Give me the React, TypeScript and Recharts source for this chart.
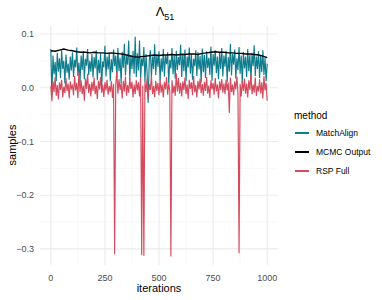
import React from "react";
import { LineChart, Line, XAxis, YAxis, ReferenceLine } from "recharts";

const STEP = 5;
const MCMC_STEP = 20;

const matchAlign: number[] = [
  0.072, -0.015, 0.060, 0.025, 0.048, 0.012, 0.065, 0.030, 0.055, 0.018, 0.070, 0.035, 0.050, 0.008, 0.062, 0.028, 0.045, 0.015, 0.058, 0.032, 0.066,
  0.020, 0.052, 0.038, 0.075, 0.022, 0.047, 0.010, 0.060, 0.033, 0.068, 0.016, 0.054, 0.041, 0.072, 0.024, 0.050, 0.030, 0.063, 0.019, 0.057,
  0.036, 0.070, 0.014, 0.052, 0.027, 0.064, 0.002, 0.049, 0.038, 0.078, 0.021, 0.058, 0.034, 0.066, 0.012, 0.053, 0.029, 0.071, 0.040, 0.060,
  0.018, 0.074, 0.031, 0.056, 0.009, 0.067, 0.037, 0.082, 0.023, 0.059, 0.043, 0.088, 0.015, 0.061, 0.035, 0.069, 0.026, 0.095, 0.020, 0.064,
  0.032, 0.088, 0.017, 0.055, 0.040, 0.076, 0.011, 0.063, 0.028, -0.028, 0.050, 0.070, 0.019, 0.058, 0.035, 0.081, 0.024, 0.062, 0.039, 0.068,
  0.013, 0.055, 0.030, 0.072, 0.021, 0.060, 0.044, 0.066, 0.008, 0.052, 0.036, 0.074, 0.025, 0.061, 0.017, 0.069, 0.033, 0.057, 0.042, 0.080,
  0.020, 0.064, 0.031, 0.071, 0.012, 0.058, 0.038, 0.075, 0.026, 0.062, 0.015, 0.054, 0.040, 0.070, 0.022, 0.066, 0.034, 0.059, 0.010, 0.073,
  0.029, 0.061, 0.018, 0.068, 0.037, 0.056, 0.024, 0.077, 0.013, 0.063, 0.041, 0.070, 0.027, 0.058, 0.016, 0.065, 0.035, 0.074, 0.021, 0.060,
  0.039, 0.069, 0.011, 0.057, 0.030, 0.082, 0.023, 0.063, 0.043, 0.071, 0.017, 0.055, 0.033, 0.076, 0.026, 0.060, 0.008, 0.067, 0.036, 0.058,
  0.020, 0.072, 0.031, 0.062, 0.014, 0.065, 0.040, 0.079, 0.022, 0.058, 0.035, 0.068, 0.018, 0.061, 0.029, 0.070, 0.024, 0.056, 0.012, 0.045,
];

const rspFull: number[] = [
  0.003, -0.025, 0.012, -0.008, 0.020, -0.015, 0.005, -0.022, 0.010, -0.004, 0.015, -0.018, 0.002, -0.010, 0.018, -0.006, 0.008, -0.020, 0.012, -0.003, 0.006,
  -0.014, 0.022, -0.005, 0.009, -0.019, 0.030, -0.008, 0.014, -0.012, 0.004, -0.024, 0.017, -0.002, 0.026, -0.010, 0.007, -0.016, 0.011, -0.006, 0.019,
  -0.012, 0.004, -0.021, 0.013, -0.003, 0.020, -0.009, 0.006, -0.017, 0.010, -0.005, 0.015, -0.013, 0.003, -0.008, 0.012, -0.019, 0.007, -0.310, 0.005,
  0.030, -0.011, 0.016, -0.004, 0.009, -0.020, 0.013, -0.007, 0.021, -0.015, 0.005, -0.009, 0.018, -0.002, 0.011, -0.018, 0.006, -0.012, 0.014, -0.005,
  0.010, -0.016, 0.019, -0.312, 0.004, -0.313, 0.012, -0.008, 0.017, -0.020, 0.007, -0.004, 0.022, -0.012, 0.003, -0.017, 0.013, -0.006, 0.009, -0.014,
  0.016, -0.009, 0.006, -0.018, 0.011, -0.003, 0.020, -0.013, 0.008, -0.006, -0.314, 0.014, -0.010, 0.004, -0.015, 0.027, -0.007, 0.018, -0.011, 0.009,
  -0.016, 0.012, -0.004, 0.019, -0.012, 0.006, -0.021, 0.015, -0.002, 0.010, -0.014, 0.022, -0.008, 0.005, -0.018, 0.013, -0.003, 0.017, -0.010, 0.007,
  -0.015, 0.011, -0.006, 0.020, -0.011, 0.004, -0.019, 0.014, -0.003, 0.009, -0.013, 0.018, -0.007, 0.006, -0.020, 0.012, -0.004, 0.016, -0.009, 0.008,
  -0.012, 0.015, -0.005, 0.010, -0.047, 0.019, -0.008, 0.006, -0.014, 0.012, -0.003, 0.021, -0.010, -0.308, 0.007, -0.016, 0.013, -0.006, 0.017, -0.011,
  0.008, -0.018, 0.014, -0.004, 0.025, -0.012, 0.006, -0.009, 0.019, -0.015, 0.003, -0.007, 0.016, -0.011, 0.010, -0.020, 0.022, -0.005, 0.009, -0.024,
];

const mcmcOutput: number[] = [
  0.069, 0.068, 0.070, 0.072, 0.070, 0.069, 0.067, 0.066, 0.066, 0.065, 0.066,
  0.065, 0.065, 0.064, 0.065, 0.064, 0.063, 0.062, 0.060, 0.058, 0.057,
  0.058, 0.059, 0.060, 0.061, 0.060, 0.061, 0.061, 0.062, 0.061, 0.062,
  0.062, 0.063, 0.063, 0.062, 0.064, 0.065, 0.066, 0.067, 0.066, 0.066,
  0.065, 0.065, 0.064, 0.064, 0.063, 0.063, 0.062, 0.061, 0.059, 0.056,
];

const xTicks = [0, 250, 500, 750, 1000];
const xMinor = [125, 375, 625, 875];
const yTicks = [-0.3, -0.2, -0.1, 0.0, 0.1];
const yMinor = [-0.25, -0.15, -0.05, 0.05];

const seriesNames = ["MatchAlign", "MCMC Output", "RSP Full"];
const seriesColors = ["#0F7D8E", "#000000", "#D44A5E"];

const matchData = matchAlign.map((v, i) => ({ it: i * STEP, v }));
const rspData = rspFull.map((v, i) => ({ it: i * STEP, v }));
const mcmcData = mcmcOutput.map((v, i) => ({ it: i * MCMC_STEP, v }));

const FONT = "'Liberation Sans', Arial, sans-serif";

export default function App() {
  return (
    <div style={{ position: "fixed", left: 0, top: 0, width: 382, height: 300, background: "#fff", fontFamily: FONT }}>
      <LineChart width={382} height={300} margin={{ top: 26, right: 104, bottom: 0, left: 0 }}>
        {yMinor.map((y) => (
          <ReferenceLine key={"ym" + y} y={y} stroke="#F2F2F2" strokeWidth={0.6} ifOverflow="hidden" />
        ))}
        {xMinor.map((x) => (
          <ReferenceLine key={"xm" + x} x={x} stroke="#F2F2F2" strokeWidth={0.6} ifOverflow="hidden" />
        ))}
        {yTicks.map((y) => (
          <ReferenceLine key={"yM" + y} y={y} stroke="#EBEBEB" strokeWidth={1.1} />
        ))}
        {xTicks.map((x) => (
          <ReferenceLine key={"xM" + x} x={x} stroke="#EBEBEB" strokeWidth={1.1} />
        ))}
        <XAxis
          dataKey="it"
          type="number"
          domain={[-50, 1050]}
          ticks={xTicks}
          allowDuplicatedCategory={false}
          axisLine={false}
          tickLine={false}
          height={35}
          tickMargin={4}
          tick={{ fill: "#4D4D4D", fontSize: 9, fontFamily: FONT }}
        />
        <YAxis
          dataKey="v"
          type="number"
          domain={[-0.33, 0.115]}
          ticks={yTicks}
          axisLine={false}
          tickLine={false}
          width={40}
          tickMargin={0}
          tick={{ fill: "#4D4D4D", fontSize: 9, fontFamily: FONT }}
          tickFormatter={(v: number) => v.toFixed(1).replace("-", "\u2212")}
        />
        <Line data={matchData} dataKey="v" stroke={seriesColors[0]} strokeWidth={1.15} dot={false} isAnimationActive={false} />
        <Line data={mcmcData} dataKey="v" stroke={seriesColors[1]} strokeWidth={1.4} dot={false} isAnimationActive={false} />
        <Line data={rspData} dataKey="v" stroke={seriesColors[2]} strokeWidth={1.15} dot={false} isAnimationActive={false} />
      </LineChart>

      <div style={{ position: "absolute", left: 0, width: 330, top: 4, textAlign: "center", fontSize: 13, color: "#000" }}>
        Λ<sub style={{ fontSize: 9 }}>51</sub>
      </div>
      <div style={{ position: "absolute", left: 40, width: 238, top: 282, textAlign: "center", fontSize: 11, color: "#000" }}>
        iterations
      </div>
      <div
        style={{
          position: "absolute",
          left: 12,
          top: 145,
          transform: "translate(-50%, -50%) rotate(-90deg)",
          fontSize: 11,
          color: "#000",
          whiteSpace: "nowrap",
        }}
      >
        samples
      </div>
      <div style={{ position: "absolute", left: 294, top: 110, fontSize: 10, color: "#000" }}>method</div>
      {seriesNames.map((name, i) => (
        <div key={name} style={{ position: "absolute", left: 295, top: 127 + i * 19.2, height: 12, display: "flex", alignItems: "center" }}>
          <div style={{ width: 14, height: 2, background: seriesColors[i] }} />
          <div style={{ marginLeft: 7, fontSize: 8.5, color: "#000" }}>{name}</div>
        </div>
      ))}
    </div>
  );
}
